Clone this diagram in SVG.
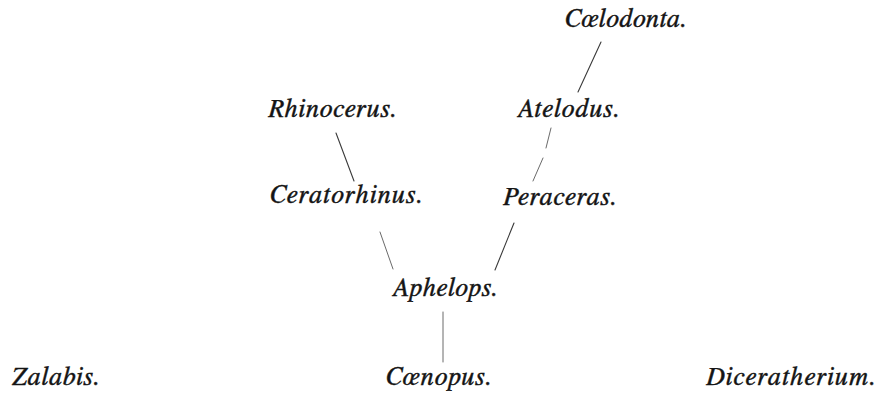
<svg xmlns="http://www.w3.org/2000/svg" width="882" height="393" viewBox="0 0 882 393">
  <style>
    .link { stroke: #3a3a3a; stroke-width: 1.1; fill: none; stroke-linecap: round; }
    .faint { stroke: #6a6a6a; stroke-width: 1; }
    .name { font-family: FreeSerif, 'Liberation Serif', serif; font-style: italic; font-size: 26px; fill: #141414; stroke: #141414; stroke-width: 0.45px; }
  </style>
  <rect width="882" height="393" fill="#ffffff"/>

  <!-- lines of descent -->
  <g id="connectors">
    <line class="link" x1="601" y1="42" x2="578" y2="92"/>
    <line class="link faint" x1="551" y1="128" x2="546" y2="148"/>
    <line class="link faint" x1="543" y1="158" x2="533" y2="181"/>
    <line class="link" x1="336" y1="133" x2="354" y2="181"/>
    <line class="link" x1="514" y1="223" x2="495" y2="270"/>
    <line class="link faint" x1="380" y1="232" x2="393" y2="269"/>
    <line class="link faint" x1="443" y1="312" x2="443" y2="362"/>
  </g>

  <!-- genus names -->
  <g id="coelodonta"><text class="name" x="565" y="27" textLength="122" lengthAdjust="spacing">Cœlodonta.</text></g>
  <g id="rhinocerus"><text class="name" x="268" y="117" textLength="129" lengthAdjust="spacing">Rhinocerus.</text></g>
  <g id="atelodus"><text class="name" x="517" y="117" textLength="103" lengthAdjust="spacing">Atelodus.</text></g>
  <g id="ceratorhinus"><text class="name" x="270" y="203" textLength="153" lengthAdjust="spacing">Ceratorhinus.</text></g>
  <g id="peraceras"><text class="name" x="503" y="205" textLength="114" lengthAdjust="spacing">Peraceras.</text></g>
  <g id="aphelops"><text class="name" x="392" y="296" textLength="106" lengthAdjust="spacing">Aphelops.</text></g>
  <g id="zalabis"><text class="name" x="12" y="385" textLength="88" lengthAdjust="spacing">Zalabis.</text></g>
  <g id="coenopus"><text class="name" x="386" y="385" textLength="106" lengthAdjust="spacing">Cœnopus.</text></g>
  <g id="diceratherium"><text class="name" x="706" y="385" textLength="170" lengthAdjust="spacing">Diceratherium.</text></g>
</svg>
